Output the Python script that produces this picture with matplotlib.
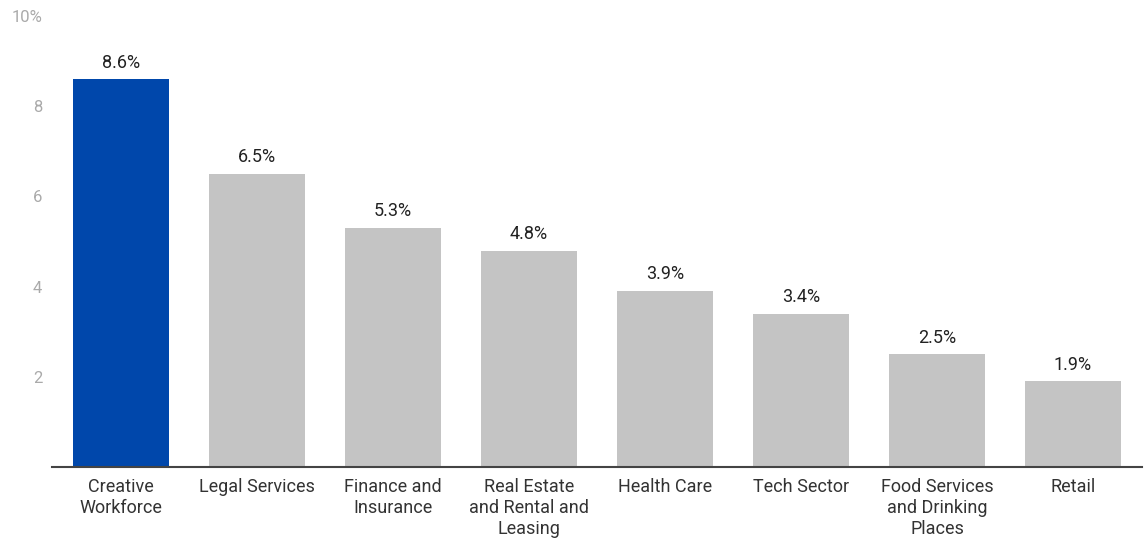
import matplotlib
matplotlib.use("Agg")
import matplotlib.pyplot as plt

categories = ["Creative\nWorkforce", "Legal Services", "Finance and\nInsurance",
              "Real Estate\nand Rental and\nLeasing", "Health Care", "Tech Sector",
              "Food Services\nand Drinking\nPlaces", "Retail"]
values = [8.6, 6.5, 5.3, 4.8, 3.9, 3.4, 2.5, 1.9]
value_labels = ["8.6%", "6.5%", "5.3%", "4.8%", "3.9%", "3.4%", "2.5%", "1.9%"]
y_ticks = [2, 4, 6, 8, 10]
y_tick_labels = ["2", "4", "6", "8", "10%"]

plt.rcParams["font.family"] = ["Roboto", "DejaVu Sans"]

W, H = 1144, 542
fig = plt.figure(figsize=(W / 100, H / 100), dpi=100)
ax = fig.add_axes([52 / W, (H - 467) / H, (1142 - 52) / W, (467 - 16) / H])

colors = ["#0047ab"] + ["#c4c4c4"] * (len(values) - 1)
x = list(range(len(values)))
ax.bar(x, values, width=0.706, color=colors, zorder=2)

for xi, v, lab in zip(x, values, value_labels):
    ax.annotate(lab, (xi, v), xytext=(0, 5.5), textcoords="offset points",
                ha="center", va="bottom", fontsize=13, color="#222222")

ax.set_xlim(-0.507, 7.507)
ax.set_ylim(0, 10)
ax.set_yticks(y_ticks)
ax.set_yticklabels(y_tick_labels)
ax.set_xticks(x)
ax.set_xticklabels(categories, fontsize=13, color="#333333", linespacing=1.22)
ax.tick_params(axis="y", length=0, pad=7, labelsize=12, labelcolor="#aaaaaa")
ax.tick_params(axis="x", length=0, pad=8)

for s in ["top", "right", "left"]:
    ax.spines[s].set_visible(False)
ax.spines["bottom"].set_color("#444444")
ax.spines["bottom"].set_linewidth(1.5)
ax.spines["bottom"].set_zorder(3)

fig.savefig("out.png", dpi=100)
